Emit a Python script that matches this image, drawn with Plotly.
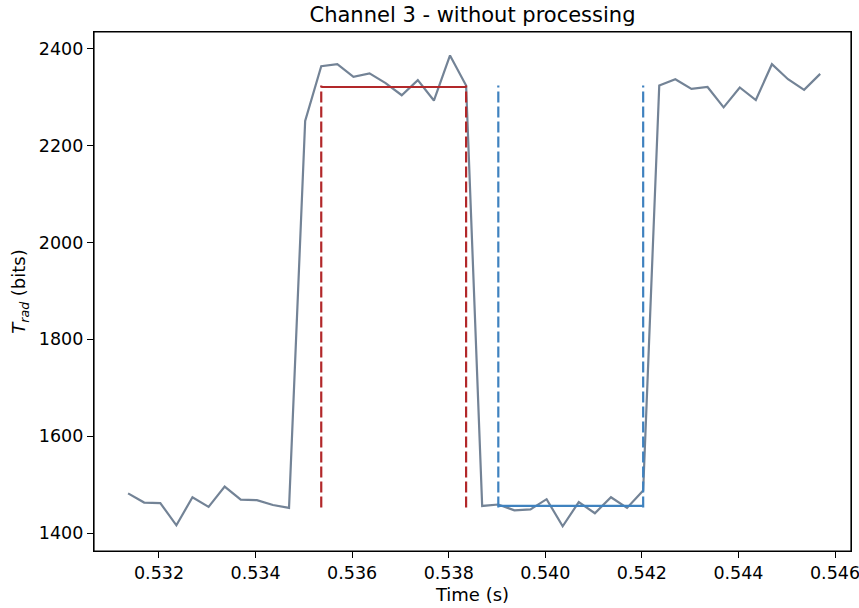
import plotly.graph_objects as go

# ---- data ----
time_s = [0.531360, 0.531693, 0.532027, 0.532360, 0.532693, 0.533027, 0.533360, 0.533693,
          0.534027, 0.534360, 0.534693, 0.535027, 0.535360, 0.535693, 0.536027, 0.536360,
          0.536693, 0.537027, 0.537360, 0.537693, 0.538027, 0.538360, 0.538693, 0.539027,
          0.539360, 0.539693, 0.540027, 0.540360, 0.540693, 0.541027, 0.541360, 0.541693,
          0.542027, 0.542360, 0.542693, 0.543027, 0.543360, 0.543693, 0.544027, 0.544360,
          0.544693, 0.545027, 0.545360, 0.545693]
t_rad = [1482, 1463, 1462, 1416, 1474, 1454, 1496, 1469, 1468, 1458, 1452,
         2251,
         2364, 2368, 2342, 2349, 2329, 2304, 2335, 2293, 2386, 2324,
         1456, 1459, 1447, 1449, 1470, 1414, 1464, 1441, 1474, 1452, 1488,
         2324, 2337, 2317, 2321, 2279, 2320, 2294, 2368, 2337, 2315, 2348]

red_window = [0.535360, 0.538360]    # start / end of "high" window
blue_window = [0.539027, 0.542027]   # start / end of "low" window
high_level = 2321
low_level = 1453
blue_level = 1456

x_ticks = [0.532, 0.534, 0.536, 0.538, 0.540, 0.542, 0.544, 0.546]
y_ticks = [1400, 1600, 1800, 2000, 2200, 2400]
x_range = [0.530654, 0.546331]
y_range = [1363, 2434.5]

GREY = "#738396"
RED = "#b2282a"
BLUE = "#3f82bf"
FONT = "DejaVu Sans"

fig = go.Figure()
fig.add_trace(go.Scatter(x=time_s, y=t_rad, mode="lines",
                         line=dict(color=GREY, width=2.2), hoverinfo="skip"))

# red window: dashed verticals + solid horizontal at high level
for t in red_window:
    fig.add_trace(go.Scatter(x=[t, t], y=[low_level, high_level + 3], mode="lines",
                             line=dict(color=RED, width=2.2, dash="11px,4px")))
fig.add_trace(go.Scatter(x=red_window, y=[high_level, high_level], mode="lines",
                         line=dict(color=RED, width=2.2)))

# blue window: dashed verticals + solid horizontal at low level
for t in blue_window:
    fig.add_trace(go.Scatter(x=[t, t], y=[low_level, high_level + 3], mode="lines",
                             line=dict(color=BLUE, width=2.2, dash="11px,4px")))
fig.add_trace(go.Scatter(x=blue_window, y=[blue_level, blue_level], mode="lines",
                         line=dict(color=BLUE, width=2.2)))

axis_common = dict(showgrid=False, zeroline=False, showline=True, linecolor="black",
                   linewidth=1.2, mirror=True, ticks="outside", ticklen=6, tickwidth=1.2,
                   tickcolor="black", automargin=False, ticklabeloverflow="allow",
                   tickfont=dict(family=FONT, size=17.5, color="black"))

fig.update_layout(
    width=859, height=608,
    margin=dict(l=94, r=8, t=32, b=57, autoexpand=False),
    paper_bgcolor="white", plot_bgcolor="white",
    showlegend=False,
    title=dict(text="Channel 3 - without processing", x=0.5, xref="paper",
               y=1 - 15 / 608, yanchor="middle", automargin=False,
               font=dict(family=FONT, size=21, color="black")),
    xaxis=dict(range=x_range, tickvals=x_ticks, tickformat=".3f",
               title=dict(text="Time (s)", standoff=6,
                          font=dict(family=FONT, size=18, color="black")),
               **axis_common),
    yaxis=dict(range=y_range, tickvals=y_ticks,
               title=dict(text="<i>T</i><sub><i>rad</i></sub> (bits)", standoff=8,
                          font=dict(family=FONT, size=18, color="black")),
               **axis_common),
    shapes=[dict(type="rect", xref="paper", yref="paper", x0=0, x1=1, y0=0, y1=1,
                 line=dict(color="black", width=1.2), fillcolor="rgba(0,0,0,0)", layer="above")],
)

fig.write_html("out.html", config={"displayModeBar": False},
               post_script="document.body.style.margin='0';document.body.style.overflow='hidden';")
